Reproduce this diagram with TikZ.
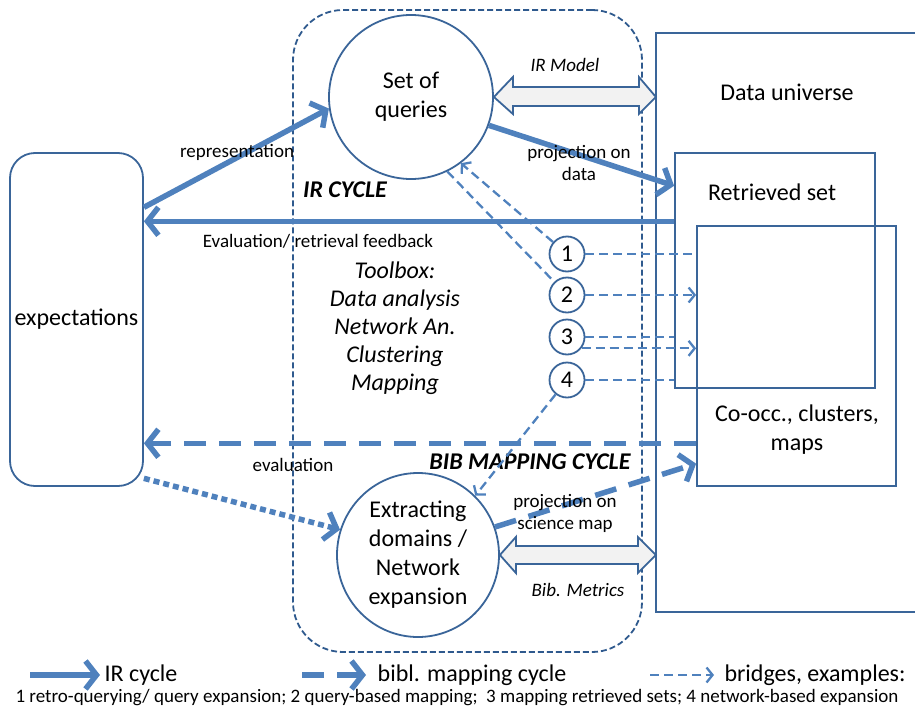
\documentclass[tikz,border=0pt]{standalone}
\usepackage{fontspec}
\setmainfont{Carlito}
\usetikzlibrary{arrows.meta,shapes.geometric}

\definecolor{outl}{HTML}{3A6599}
\definecolor{frame}{HTML}{2F5A8E}
\definecolor{arrblue}{HTML}{4F81BD}
\definecolor{lightgr}{HTML}{F2F2F2}

\begin{document}
\begin{tikzpicture}[x=1pt,y=-1pt]
        \tikzstyle{every node}+=[inner sep=0pt, align=center, font=\fontsize{24}{29}\selectfont]
        \tikzstyle{box}=[draw=outl, line width=1.8pt]
        \tikzstyle{lbl}=[font=\fontsize{19}{22}\selectfont]
        \tikzstyle{ircyc}=[draw=arrblue, line width=5.5pt, -{Straight Barb[length=11pt,width=28pt]}]
        \tikzstyle{bibcyc}=[ircyc, dash pattern=on 22pt off 13pt]
        \tikzstyle{dotcyc}=[ircyc, dash pattern=on 6pt off 4pt]
        \tikzstyle{bridge}=[draw=arrblue, line width=2.3pt, dash pattern=on 9pt off 5pt]
        \tikzstyle{tip}=[-{Straight Barb[length=6pt,width=15pt]}]
        \tikzstyle{fatarr}=[draw=outl, fill=lightgr, line width=1.8pt, line join=miter]
        \useasboundingbox (0,0) rectangle (915,712);
        % the toolbox frame
        \node [draw=frame, line width=1.8pt, dash pattern=on 6pt off 3pt, rounded corners=50pt,
               minimum width=349, minimum height=642] (tb) at (467.5,331) {};
        % data side
        \node [minimum width=259, minimum height=579] (du) at (785.5,322.5) {};
        \draw [box] (du.north east) -- (du.north west) -- (du.south west) -- (du.south east);
        \node (dutxt) at (787,92) {Data universe};
        \node [box, minimum width=200, minimum height=235] (ret) at (775,270.5) {};
        \node (rettxt) at (772,192) {Retrieved set};
        \node [box, minimum width=199, minimum height=260] (coo) at (796.5,356) {};
        \node (cootxt) at (797,430) {Co-occ., clusters,\\maps};
        % user side and the two cycles
        \node [box, rounded corners=25pt, minimum width=133, minimum height=333] (exp) at (76.5,319.5) {expectations};
        \node [box, circle, minimum size=164] (qry) at (411,97) {Set of\\queries};
        \node [box, ellipse, minimum width=162, minimum height=164] (ext) at (418,555) {Extracting\\domains /\\Network\\expansion};
        \foreach \n/\y in {1/254,2/295,3/337,4/380}
            \node [box, circle, minimum size=35] (n\n) at (567,\y) {\n};
        % double arrows
        \draw [fatarr] (qry.east) -- ++(19,-20) -- ++(0,10) -- ++(126,0) -- ++(0,-10) -- ++(17,20)
              -- ++(-17,17) -- ++(0,-8) -- ++(-126,0) -- ++(0,8) -- cycle;
        \draw [fatarr] (ext.east) -- ++(16,-18) -- ++(0,9) -- ++(122,0) -- ++(0,-9) -- ++(18,18)
              -- ++(-18,18) -- ++(0,-9) -- ++(-122,0) -- ++(0,9) -- cycle;
        \node [lbl] (lirm) at (565,65) {\itshape IR Model};
        \node [lbl] (lbm) at (578,590) {\itshape Bib. Metrics};
        % IR cycle
        \draw [ircyc] (exp.59) -- (qry.188);
        \node [lbl] (lrep) at (237,152) {representation};
        \draw [ircyc] (qry.-20) -- (ret.140);
        \node [lbl] (lproj) at (579,163) {projection on\\data};
        \draw [ircyc] (ret.154) -- (ret.154 -| exp.east);
        \node [lbl] (lfb) at (318,241) {Evaluation/ retrieval feedback};
        \node (lirc) at (345,190) {\bfseries\itshape IR CYCLE};
        \node [font=\fontsize{24}{28}\selectfont] (ltool) at (395,328)
              {\itshape Toolbox:\\\itshape Data analysis\\\itshape Network An.\\\itshape Clustering\\\itshape Mapping};
        % bib mapping cycle
        \draw [bibcyc] (coo.221) -- (coo.221 -| exp.east);
        \node [lbl] (leval) at (293,465) {evaluation};
        \draw [dotcyc] (exp.-67) -- (ext.162);
        \draw [bibcyc] (ext.20) -- (coo.227);
        \node [lbl] (lsci) at (565,513) {projection on\\science map};
        \node (lbib) at (530,462) {\bfseries\itshape BIB MAPPING CYCLE};
        % bridges
        \draw [bridge, tip] (n1) -- (qry.-53);
        \draw [bridge] (n1) -- (n1 -| coo.west);
        \draw [bridge] (qry.-64) -- (n2);
        \draw [bridge, tip] (n2) -- (n2 -| coo.west);
        \draw [bridge] (n3) -- (n3 -| ret.west);
        \draw [bridge, tip] (n3.-38) -- (n3.-38 -| coo.west);
        \draw [bridge] (n4) -- (n4 -| ret.west);
        \draw [bridge, tip] (n4) -- (ext.46);
        % legend
        \coordinate (lg1s) at (30,675);
        \coordinate (lg1e) at (100,675);
        \draw [ircyc] (lg1s) -- (lg1e);
        \node (lg1t) at (141,675) {IR cycle};
        \coordinate (lg2s) at (302,675);
        \coordinate (lg2e) at (366,675);
        \draw [bibcyc] (lg2s) -- (lg2e);
        \node (lg2t) at (472,675) {bibl. mapping cycle};
        \coordinate (lg3s) at (650,675);
        \coordinate (lg3e) at (714,675);
        \draw [bridge, tip] (lg3s) -- (lg3e);
        \node (lg3t) at (815,675) {bridges, examples:};
        \node [lbl] (lgnote) at (457,698) {1 retro-querying/ query expansion; 2 query-based mapping;\ \ 3 mapping retrieved sets; 4 network-based expansion};
\end{tikzpicture}
\end{document}
